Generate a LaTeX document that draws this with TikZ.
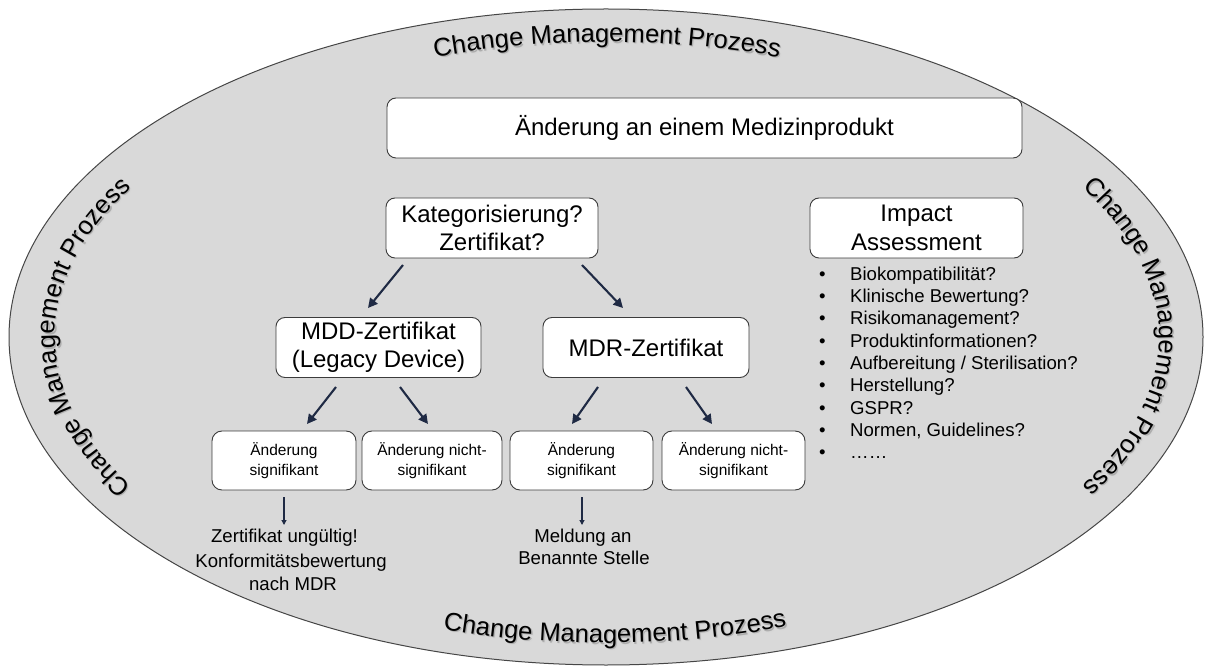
\documentclass[tikz,border=0pt]{standalone}
\usepackage{fontspec}
\setmainfont{Liberation Sans}
\usetikzlibrary{decorations.text, arrows.meta}
\definecolor{bg}{RGB}{217,217,217}
\definecolor{rim}{RGB}{70,70,70}
\definecolor{arrc}{RGB}{31,42,68}
\definecolor{boxline}{RGB}{60,60,60}
\newcommand{\myBig}{\fontsize{24}{28.5}\selectfont}
\newcommand{\mySmall}{\fontsize{15.5}{19.5}\selectfont}
\newcommand{\myList}{\fontsize{18.6}{22.3}\selectfont}
\newcommand{\myTitle}{\fontsize{25.6}{30}\selectfont}
\newcommand{\cmptexts}[1]{%
  \path[decorate, decoration={text along path, text align=center,
      text={|#1|Change Management Prozess}}]
    (66,-337) arc[start angle=180, end angle=0, x radius=541pt, y radius=295pt];
  \path[decorate, decoration={text along path, text align=center,
      text={|#1|Change Management Prozess}}]
    (607,-630) arc[start angle=270, end angle=90, x radius=552pt, y radius=293pt];
  \path[decorate, decoration={text along path, text align=center,
      text={|#1|Change Management Prozess}}]
    (607,-44) arc[start angle=90, end angle=-90, x radius=552pt, y radius=293pt];
  \path[decorate, decoration={text along path, text align=center,
      text={|#1|Change Management Prozess}}]
    (54.2,-345) arc[start angle=181.5, end angle=361.5, x radius=553pt, y radius=306pt];
}
\begin{document}
\begin{tikzpicture}[x=1pt, y=1pt,
  box/.style={draw=boxline, line width=0.9pt, fill=white, rounded corners=9pt,
    align=center, inner sep=0pt, text=black},
  bigbox/.style={box, font=\myBig},
  smallbox/.style={box, font=\mySmall, rounded corners=10pt,
    minimum height=59pt},
  arr/.style={draw=arrc, line width=2.1pt, -{Triangle[length=9.5pt,width=9.5pt]}},
  thinarr/.style={draw=arrc, line width=1.1pt, -{Triangle[length=5pt,width=5pt]}},
  note/.style={font=\myList, inner sep=0pt, anchor=base, text=black},
]
\useasboundingbox (0,0) rectangle (1208,-668);
\fill[white] (0,0) rectangle (1208,-668);
\filldraw[fill=bg, draw=rim, line width=1pt] (606,-337) ellipse [x radius=597pt, y radius=328pt];

% curved titles with soft shadow
\begin{scope}[shift={(2.3,-2.3)}]
  \cmptexts{\myTitle\color{black!16}}
\end{scope}
\begin{scope}[shift={(1.3,-1.3)}]
  \cmptexts{\myTitle\color{black!32}}
\end{scope}
\cmptexts{\myTitle\color{black}}

% boxes
\node[bigbox, minimum width=635pt, minimum height=60pt] (chg) at (704.5,-128) {Änderung an einem Medizinprodukt};
\node[bigbox, minimum width=212pt, minimum height=60pt] (kat) at (492,-228) {Kategorisierung?\\Zertifikat?};
\node[bigbox, minimum width=213pt, minimum height=60pt] (imp) at (916.5,-228) {Impact\\Assessment};
\node[bigbox, minimum width=205pt, minimum height=60pt] (mdd) at (378.5,-347.5) {MDD-Zertifikat\\(Legacy Device)};
\node[bigbox, minimum width=206pt, minimum height=60pt] (mdr) at (646,-347.5) {MDR-Zertifikat};

\node[smallbox, minimum width=144pt] (sa) at (284,-460.5) {Änderung\\signifikant};
\node[smallbox, minimum width=140pt] (sb) at (432,-460.5) {Änderung nicht-\\signifikant};
\node[smallbox, minimum width=143pt] (sc) at (581.5,-460.5) {Änderung\\signifikant};
\node[smallbox, minimum width=143pt] (sd) at (733.5,-460.5) {Änderung nicht-\\signifikant};

% impact list
\node[anchor=north west, inner sep=0pt, font=\myList, text=black] (lst) at (819,-264.4) {%
  \begin{tabular}{@{}l@{\hspace{24.5pt}}l@{}}
  \textbullet & Biokompatibilität?\\
  \textbullet & Klinische Bewertung?\\
  \textbullet & Risikomanagement?\\
  \textbullet & Produktinformationen?\\
  \textbullet & Aufbereitung / Sterilisation?\\
  \textbullet & Herstellung?\\
  \textbullet & GSPR?\\
  \textbullet & Normen, Guidelines?\\
  \textbullet & ……
  \end{tabular}};

% notes
\node[note] (zu) at (284.5,-542) {Zertifikat ungültig!};
\node[note] (kb1) at (291,-567) {Konformitätsbewertung};
\node[note] (kb2) at (293,-590) {nach MDR};
\node[note] (ml1) at (583,-542) {Meldung an};
\node[note] (ml2) at (584,-564) {Benannte Stelle};

% arrow end points
\coordinate (k1s) at (403,-265); \coordinate (k1e) at (368,-308);
\coordinate (k2s) at (582,-265); \coordinate (k2e) at (623,-308);
\coordinate (d1s) at (336,-387); \coordinate (d1e) at (307,-424);
\coordinate (d2s) at (400,-387); \coordinate (d2e) at (428,-424);
\coordinate (r1s) at (598,-387); \coordinate (r1e) at (572,-424);
\coordinate (r2s) at (686,-387); \coordinate (r2e) at (712,-424);
\coordinate (v1s) at (284,-497); \coordinate (v1e) at (284,-525);
\coordinate (v2s) at (582,-497); \coordinate (v2e) at (582,-525);

\draw[arr] (k1s) -- (k1e);
\draw[arr] (k2s) -- (k2e);
\draw[arr] (d1s) -- (d1e);
\draw[arr] (d2s) -- (d2e);
\draw[arr] (r1s) -- (r1e);
\draw[arr] (r2s) -- (r2e);
\draw[thinarr] (v1s) -- (v1e);
\draw[thinarr] (v2s) -- (v2e);
\end{tikzpicture}
\end{document}
